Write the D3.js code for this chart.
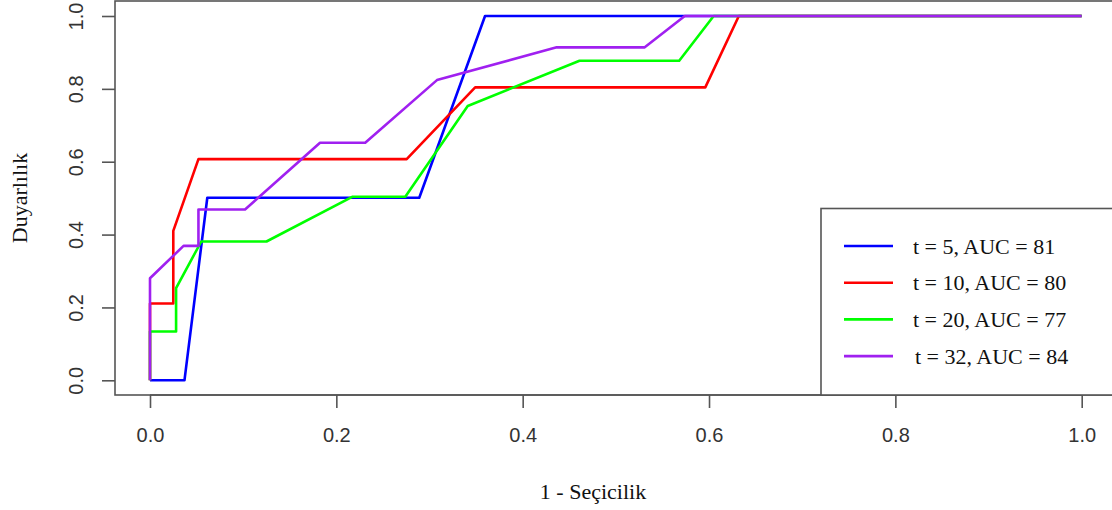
<!DOCTYPE html>
<html>
<head>
<meta charset="utf-8">
<script src="https://cdn.jsdelivr.net/npm/d3@7"></script>
<style>
  html, body { margin: 0; padding: 0; background: #fff; overflow: hidden; }
  svg { display: block; }
</style>
</head>
<body>
<svg id="chart" width="1112" height="510"></svg>
<script>
// ROC curves at four time points (1 - specificity vs. sensitivity)
const seriesNames = ["t = 5, AUC = 81", "t = 10, AUC = 80", "t = 20, AUC = 77", "t = 32, AUC = 84"];
const seriesColors = ["#0000ff", "#ff0000", "#00ff00", "#a020f0"];

const fpr5  = [0, 0.037, 0.0615, 0.289, 0.3596, 1];
const tpr5  = [0, 0, 0.501, 0.501, 1, 1];

const fpr10 = [0, 0, 0.025, 0.025, 0.052, 0.2755, 0.349, 0.596, 0.632, 1];
const tpr10 = [0, 0.211, 0.211, 0.41, 0.607, 0.607, 0.804, 0.804, 1, 1];

const fpr20 = [0, 0, 0.028, 0.028, 0.055, 0.125, 0.2175, 0.274, 0.341, 0.461, 0.568, 0.605, 1];
const tpr20 = [0, 0.134, 0.134, 0.253, 0.381, 0.381, 0.504, 0.504, 0.753, 0.877, 0.877, 1, 1];

const fpr32 = [0, 0, 0.036, 0.052, 0.052, 0.102, 0.1825, 0.231, 0.308, 0.4365, 0.531, 0.574, 1];
const tpr32 = [0, 0.28, 0.369, 0.369, 0.469, 0.469, 0.652, 0.652, 0.824, 0.914, 0.914, 1, 1];

const xTicks = [0, 0.2, 0.4, 0.6, 0.8, 1.0];
const yTicks = [0, 0.2, 0.4, 0.6, 0.8, 1.0];
const xTitle = "1 - Seçicilik";
const yTitle = "Duyarlılık";

const curves = [
  d3.zip(fpr5, tpr5),
  d3.zip(fpr10, tpr10),
  d3.zip(fpr20, tpr20),
  d3.zip(fpr32, tpr32)
];

const svg = d3.select("#chart");
const x = d3.scaleLinear().domain([0, 1]).range([150, 1081.7]);
const y = d3.scaleLinear().domain([0, 1]).range([380.3, 16]);

// plot frame (extends 4% past the data range, as in base graphics)
const box = { left: 115, top: 1, right: 1125, bottom: 395 };
const axisColor = "#555";
const tickText = "#333";
const sans = "'Liberation Sans', Arial, sans-serif";
const serif = "'Liberation Serif', 'Times New Roman', serif";

svg.append("rect")
  .attr("x", box.left).attr("y", box.top)
  .attr("width", box.right - box.left).attr("height", box.bottom - box.top)
  .attr("fill", "none").attr("stroke", axisColor).attr("stroke-width", 1.6);

// x axis ticks and labels
const xAxis = d3.axisBottom(x).tickValues(xTicks).tickSize(13).tickFormat(d3.format(".1f")).tickPadding(0);
const gx = svg.append("g").attr("transform", `translate(0,${box.bottom})`).call(xAxis);
gx.select(".domain").remove();
gx.selectAll(".tick line").attr("stroke", axisColor).attr("stroke-width", 1.6);
gx.selectAll(".tick text")
  .attr("y", 0).attr("dy", null)
  .attr("transform", "translate(0,47)")
  .attr("fill", tickText).attr("font-family", sans).attr("font-size", 20);
// axis line spanning first to last tick
svg.append("line")
  .attr("x1", x(xTicks[0])).attr("x2", x(xTicks[xTicks.length - 1]))
  .attr("y1", box.bottom).attr("y2", box.bottom)
  .attr("stroke", axisColor).attr("stroke-width", 1.6);

// y axis ticks and rotated labels
const yAxis = d3.axisLeft(y).tickValues(yTicks).tickSize(13).tickFormat(d3.format(".1f"));
const gy = svg.append("g").attr("transform", `translate(${box.left},0)`).call(yAxis);
gy.select(".domain").remove();
gy.selectAll(".tick line").attr("stroke", axisColor).attr("stroke-width", 1.6);
gy.selectAll(".tick text")
  .attr("x", null).attr("dy", null)
  .attr("transform", "translate(-32,0) rotate(-90)")
  .attr("text-anchor", "middle")
  .attr("fill", tickText).attr("font-family", sans).attr("font-size", 20);

// curves
const line = d3.line().x(d => x(d[0])).y(d => y(d[1]));
svg.append("g").selectAll("path")
  .data(curves)
  .join("path")
  .attr("d", line)
  .attr("fill", "none")
  .attr("stroke", (d, i) => seriesColors[i])
  .attr("stroke-width", 2.6)
  .attr("stroke-linejoin", "round");

// axis titles
svg.append("text")
  .attr("x", 593).attr("y", 499)
  .attr("text-anchor", "middle")
  .attr("font-family", serif).attr("font-size", 22).attr("fill", "#111")
  .text(xTitle);
svg.append("text")
  .attr("transform", `translate(27,${(box.top + box.bottom) / 2}) rotate(-90)`)
  .attr("text-anchor", "middle")
  .attr("font-family", serif).attr("font-size", 22).attr("fill", "#111")
  .text(yTitle);

// legend
const legend = svg.append("g");
legend.append("rect")
  .attr("x", 821).attr("y", 208.5)
  .attr("width", 1125 - 821).attr("height", box.bottom - 208.5)
  .attr("fill", "#fff").attr("stroke", axisColor).attr("stroke-width", 1.6);
const rows = legend.selectAll("g.row")
  .data(seriesNames)
  .join("g")
  .attr("class", "row")
  .attr("transform", (d, i) => `translate(0,${246 + i * 36.7})`);
rows.append("line")
  .attr("x1", 844).attr("x2", 893)
  .attr("stroke", (d, i) => seriesColors[i])
  .attr("stroke-width", 2.6);
rows.append("text")
  .attr("x", (d, i) => i === 3 ? 915 : 913)
  .attr("y", 7.5)
  .attr("font-family", serif).attr("font-size", 22).attr("fill", "#111")
  .text(d => d);
</script>
</body>
</html>
